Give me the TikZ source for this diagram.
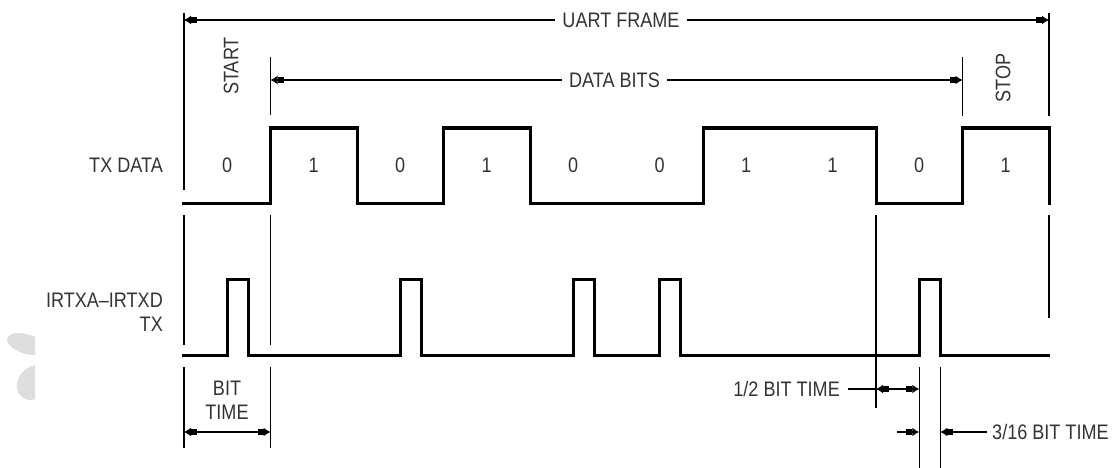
\documentclass[tikz,border=0pt]{standalone}
\usepackage{fontspec}
\setmainfont{Liberation Sans}[FakeStretch=0.86]
\usetikzlibrary{arrows.meta}
\begin{document}
\begin{tikzpicture}[x=1pt,y=-1pt,
  wave/.style={line width=3pt, line join=miter},
  guide/.style={line width=1.5pt},
  lbl/.style={text=black!80, font=\fontsize{21}{24}\selectfont, inner sep=0pt, text depth=0pt},
  gap/.style={fill=white, inner xsep=7pt, inner ysep=1pt},
  dim/.style={line width=1.5pt, {Latex[length=7pt,width=9pt,sep=0pt]Rectangle[length=6pt,width=6pt,sep=0pt]}-{Rectangle[length=6pt,width=6pt,sep=0pt]Latex[length=7pt,width=9pt,sep=0pt]}},
  dimend/.style={line width=1.5pt, -{Rectangle[length=6pt,width=6pt,sep=0pt]Latex[length=7pt,width=9pt,sep=0pt]}}
]
\useasboundingbox (0,0) rectangle (1118,468);

% faint watermark fragments
\fill[black!13] (35,337) .. controls (25,332) and (9,331) .. (7,339) .. controls (6,347) and (24,356) .. (35,355) -- cycle;
\fill[black!13] (35,365) .. controls (23,368) and (16,378) .. (17,388) .. controls (18,398) and (29,402) .. (35,399) -- cycle;

% guide lines
\draw[guide] (184,13) -- (184,190) (184,215) -- (184,345) (184,367) -- (184,448);
\draw[guide] (270.5,57) -- (270.5,115) (270.5,215) -- (270.5,345) (270.5,367) -- (270.5,448);
\draw[guide] (962.5,57) -- (962.5,116);
\draw[guide] (1049,13) -- (1049,116) (1049,215) -- (1049,318);
\draw[guide] (876,215) -- (876,408);
\draw[guide] (919.25,367) -- (919.25,468);
\draw[guide] (940.25,367) -- (940.25,468);

% TX DATA waveform
\draw[wave] (182,203) -- (270.5,203) -- (270.5,128) -- (357,128) -- (357,203) -- (443.5,203)
  -- (443.5,128) -- (530,128) -- (530,203) -- (703,203) -- (703,128) -- (876,128)
  -- (876,203) -- (962.5,203) -- (962.5,128) -- (1049,128) -- (1049,205);

% IR waveform
\draw[wave] (182,355) -- (227.25,355) -- (227.25,279) -- (248.25,279) -- (248.25,355)
  -- (400.25,355) -- (400.25,279) -- (421.25,279) -- (421.25,355)
  -- (573.25,355) -- (573.25,279) -- (594.25,279) -- (594.25,355)
  -- (659.75,355) -- (659.75,279) -- (680.75,279) -- (680.75,355)
  -- (919.25,355) -- (919.25,279) -- (940.25,279) -- (940.25,355) -- (1050,355);

% UART FRAME and DATA BITS dimension arrows
\coordinate (uf1) at (184,20);
\coordinate (uf2) at (1049,20);
\draw[dim] (uf1) -- (uf2);
\node[lbl, gap] (uft) at (621,20) {UART FRAME};
\coordinate (db1) at (270.5,80);
\coordinate (db2) at (962.5,80);
\draw[dim] (db1) -- (db2);
\node[lbl, gap] (dbt) at (614.5,80) {DATA BITS};

\node[lbl, rotate=90] (start) at (231,66) {START};
\node[lbl, rotate=90] (stop) at (1003,78) {STOP};

% bit values
\node[lbl] (b0) at (227.25,165) {0};
\node[lbl] (b1) at (313.75,165) {1};
\node[lbl] (b2) at (400.25,165) {0};
\node[lbl] (b3) at (486.75,165) {1};
\node[lbl] (b4) at (573.25,165) {0};
\node[lbl] (b5) at (659.75,165) {0};
\node[lbl] (b6) at (746.25,165) {1};
\node[lbl] (b7) at (832.75,165) {1};
\node[lbl] (b8) at (919.25,165) {0};
\node[lbl] (b9) at (1005.75,165) {1};

% signal names
\node[lbl, anchor=east] (txd) at (163,165) {TX DATA};
\node[lbl, anchor=east, align=right] (irt) at (163,312) {IRTXA–IRTXD\\TX};

% BIT TIME
\node[lbl, align=center] (btt) at (227,400) {BIT\\TIME};
\coordinate (bt1) at (184,432);
\coordinate (bt2) at (270.5,432);
\draw[dim] (bt1) -- (bt2);

% 1/2 BIT TIME
\node[lbl, anchor=east] (hbt) at (840,389) {1/2 BIT TIME};
\coordinate (hb0) at (848,389);
\coordinate (hb1) at (876,389);
\coordinate (hb2) at (919.25,389);
\draw[guide] (hb0) -- (hb1);
\draw[dim] (hb1) -- (hb2);

% 3/16 BIT TIME
\node[lbl, anchor=west] (tbt) at (992,432) {3/16 BIT TIME};
\coordinate (tb0) at (897,432);
\coordinate (tb1) at (919.25,432);
\coordinate (tb2) at (940.25,432);
\coordinate (tb3) at (987,432);
\draw[dimend] (tb0) -- (tb1);
\draw[dimend] (tb3) -- (tb2);
\end{tikzpicture}
\end{document}
